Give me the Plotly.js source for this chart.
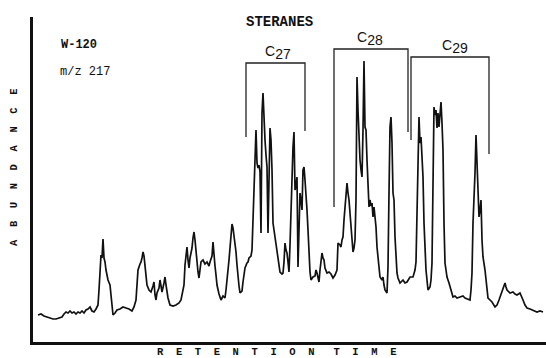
<!DOCTYPE html>
<html>
<head>
<meta charset="utf-8">
<script src="https://cdn.plot.ly/plotly-3.0.1.min.js"></script>
<style>html,body{margin:0;padding:0;background:#fff;}#chart{width:546px;height:358px;}</style>
</head>
<body>
<div id="chart"></div>
<script>
// Retention time (arbitrary units) and abundance (arbitrary units), m/z 217 trace
const retention = [38,41,44,47,50,53,56,59,62,64,66,68,70,72,74,76,78,80,82,84,86,88,90,92,94,96,98,99,100,101,102,103,104,105,106,108,110,111,112,113,115,117,120,123,126,129,132,134,136,137,138,140,141,142,143,144,145,146,147,149,151,153,154,155,156,157,159,160,161,162,164,165,166,167,168,170,173,176,179,181,182,184,185,186,187,188,189,190,192,193,194,195,196,197,198,199,200,201,203,205,207,209,210,212,213,214,215,216,217,219,221,223,225,226,227,228,229,230,231,232,233,234,235,236,237,238,239,240,242,243,244,245,247,248,249,251,252,253,254,255,256,257,258,259,260,261,262,263,264,265,266,267,268,269,270,271,272,273,274,276,277,278,279,280,282,283,284,285,286,287,288,289,290,291,292,293,294,295,296,297,298,299,300,301,302,303,304,305,306,307,308,309,310,311,312,313,315,316,317,318,319,320,321,322,323,324,325,327,329,331,333,335,337,338,340,341,342,343,344,345,346,347,348,349,350,351,352,353,354,355,356,357,358,359,360,361,362,363,364,365,366,367,368,369,370,371,372,373,374,375,376,377,378,379,380,382,383,384,385,387,388,389,390,391,392,393,394,395,396,397,398,400,403,405,407,410,413,415,416,417,418,419,420,421,422,423,424,425,426,427,428,430,431,432,433,434,435,436,437,438,439,440,441,442,443,444,445,446,447,449,450,452,453,455,457,460,463,465,468,470,471,472,473,474,475,476,477,478,479,480,481,482,483,485,486,487,488,490,492,495,497,499,500,502,503,505,506,507,510,513,515,517,520,522,523,525,527,530,532,535,537,540,543];
const abundance = [27,28,26,25,24,23,23,24,25,28,30,29,31,29,30,28,30,29,31,29,32,33,35,31,30,33,37,52,80,87,84,103,84,80,72,62,57,47,37,27,29,32,33,35,34,33,31,35,42,57,72,78,80,84,90,86,77,64,57,52,50,56,60,47,42,49,54,62,57,50,59,65,57,49,44,37,36,37,39,42,46,57,77,84,95,82,74,84,94,104,110,102,90,80,70,64,74,80,82,78,80,76,80,86,100,84,76,67,57,48,42,46,44,52,60,70,82,94,110,118,114,106,102,90,77,64,56,49,51,60,67,74,79,80,84,86,92,120,147,180,212,179,174,177,170,109,229,249,212,202,187,175,109,162,214,202,172,119,112,99,92,85,80,70,68,69,80,99,92,89,80,70,97,135,182,195,210,152,157,165,75,127,149,142,132,172,175,162,149,132,112,79,70,62,64,65,66,72,69,64,60,72,80,89,84,82,74,69,70,68,64,67,72,99,97,95,102,105,122,135,147,159,149,142,129,117,105,90,94,102,142,265,232,202,182,172,165,212,281,215,212,182,155,135,142,136,139,125,135,127,115,95,84,72,65,62,65,57,52,49,75,149,215,225,199,149,142,105,84,69,64,59,62,59,60,65,65,72,80,119,169,225,199,205,185,165,119,85,72,62,52,55,62,79,195,235,227,232,214,229,215,232,240,219,192,119,79,72,65,59,55,49,45,46,44,45,46,44,43,42,52,69,119,142,169,207,172,142,125,132,142,102,85,72,62,52,44,42,40,35,37,42,45,49,52,59,55,52,49,50,48,47,49,45,42,37,34,33,32,31,30,31,30];

// Sterane group brackets
const groupNames = ["27", "28", "29"];
const groupStart = [246, 334, 411];
const groupEnd = [305, 408, 489];
const groupTop = [279, 293, 285];
const groupLeftFoot = [205, 135, 202];
const groupRightFoot = [211, 210, 188];
const labelX = [278, 370, 455];

const traces = [{
  x: retention, y: abundance, type: 'scatter', mode: 'lines',
  line: {color: '#111', width: 1.7, shape: 'linear'},
  hoverinfo: 'skip', showlegend: false
}];
for (let i = 0; i < groupStart.length; i++) {
  traces.push({
    x: [groupStart[i], groupStart[i], groupEnd[i], groupEnd[i]],
    y: [groupLeftFoot[i], groupTop[i], groupTop[i], groupRightFoot[i]],
    type: 'scatter', mode: 'lines',
    line: {color: '#222', width: 1.3},
    hoverinfo: 'skip', showlegend: false
  });
}

const mono = 'Liberation Mono, DejaVu Sans Mono, monospace';
const layout = {
  width: 546, height: 358,
  margin: {l: 33, r: 0, t: 17, b: 16, pad: 0},
  paper_bgcolor: '#fff', plot_bgcolor: '#fff',
  showlegend: false,
  xaxis: {range: [33, 546], showgrid: false, zeroline: false, showticklabels: false, ticks: '',
          showline: true, linecolor: '#111', linewidth: 3, fixedrange: true},
  yaxis: {range: [0, 325], showgrid: false, zeroline: false, showticklabels: false, ticks: '',
          showline: true, linecolor: '#111', linewidth: 3, fixedrange: true},
  annotations: [
    {xref: 'paper', yref: 'paper', x: (279 - 33) / 513, y: (342 - 22) / 325, text: '<b>STERANES</b>',
     showarrow: false, xanchor: 'center', yanchor: 'middle', font: {family: mono, size: 14, color: '#111'}},
    {xref: 'paper', yref: 'paper', x: (79 - 33) / 513, y: (342 - 45) / 325, text: '<b>W-120</b>',
     showarrow: false, xanchor: 'center', yanchor: 'middle', font: {family: mono, size: 12, color: '#111'}},
    {xref: 'paper', yref: 'paper', x: (85 - 33) / 513, y: (342 - 72) / 325, text: 'm/z 217',
     showarrow: false, xanchor: 'center', yanchor: 'middle', font: {family: mono, size: 12, color: '#111'}},
    {xref: 'paper', yref: 'paper', x: (276 - 33) / 513, y: -10 / 325, text: '<b>R  E  T  E  N  T  I  O  N   T  I  M  E</b>',
     showarrow: false, xanchor: 'center', yanchor: 'middle', font: {family: mono, size: 10.5, color: '#111'}},
    {xref: 'paper', yref: 'paper', x: -19 / 513, y: (342 - 167) / 325, text: '<b>A  B  U  N  D  A  N  C  E</b>',
     textangle: -90, showarrow: false, xanchor: 'center', yanchor: 'middle', font: {family: mono, size: 10.5, color: '#111'}}
  ]
};
for (let i = 0; i < groupNames.length; i++) {
  layout.annotations.push({
    xref: 'x', yref: 'y', x: labelX[i], y: groupTop[i], text: 'C<sub><span style="font-size:14px">' + groupNames[i] + '</span></sub>',
    showarrow: false, xanchor: 'center', yanchor: 'bottom', yshift: -1,
    font: {family: 'Liberation Sans, Arial, sans-serif', size: 14, color: '#111'}
  });
}
Plotly.newPlot('chart', traces, layout, {staticPlot: true, displayModeBar: false});
</script>
</body>
</html>
